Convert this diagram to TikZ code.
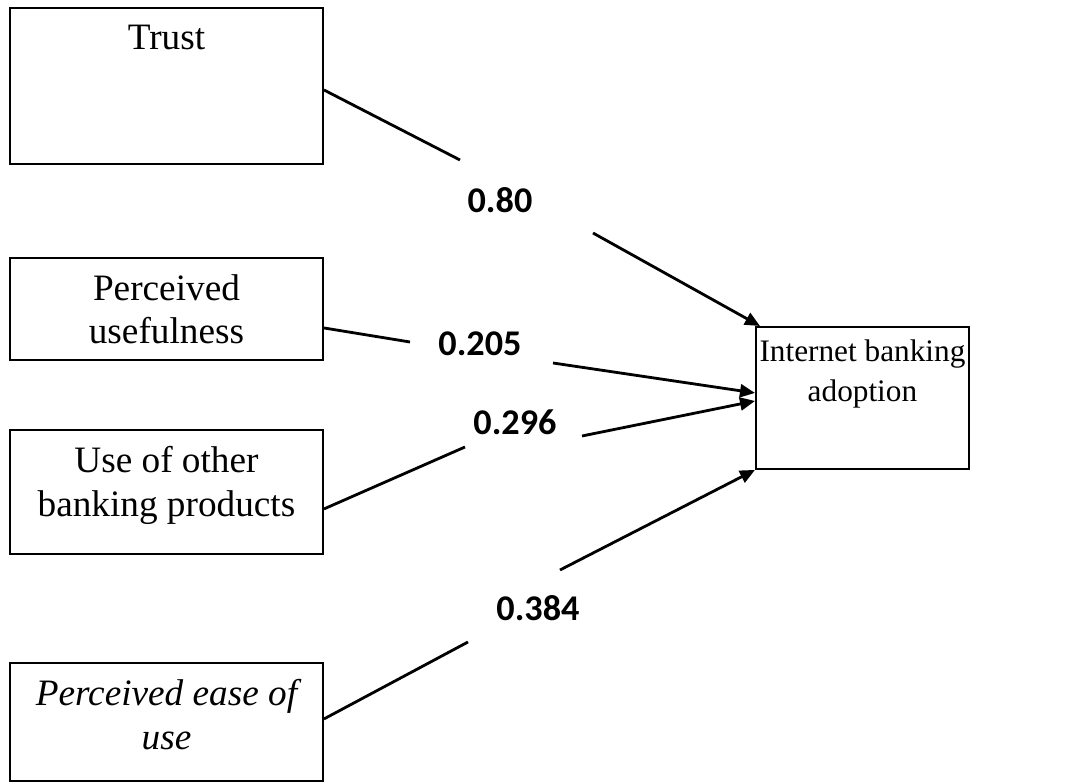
\documentclass[tikz,border=0pt]{standalone}
\usepackage{fontspec}
\setmainfont{Liberation Serif}
\newfontfamily\coeffont{Carlito}
\usetikzlibrary{arrows.meta}
\tikzset{
  box/.style={draw, line width=0.55pt, minimum width=3.13cm, anchor=north west, inner sep=0pt},
  boxtxt/.style={anchor=north, align=center, inner sep=0pt, yshift=-0.17cm,
    font=\fontsize{10.6}{12.3}\selectfont},
  coef/.style={inner sep=1pt, font=\coeffont\fontsize{10.3}{12}\selectfont},
  link/.style={line width=0.8pt},
  flow/.style={link, -{Triangle[length=0.15cm, width=0.13cm]}},
}
\begin{document}
\begin{tikzpicture}
  \useasboundingbox (0,0) rectangle (10.70,7.82);

  % predictors (left)
  \node[box, minimum height=1.56cm] (trust) at (0.09,7.75) {};
  \node[boxtxt] (trusttxt) at (trust.north) {Trust};
  \node[box, minimum height=1.02cm] (pu) at (0.09,5.25) {};
  \node[boxtxt] (putxt) at (pu.north) {Perceived\\usefulness};
  \node[box, minimum height=1.24cm] (uobp) at (0.09,3.53) {};
  \node[boxtxt] (uobptxt) at (uobp.north) {Use of other\\banking products};
  \node[box, minimum height=1.18cm] (peu) at (0.09,1.20) {};
  \node[boxtxt, font=\fontsize{10.6}{12.3}\selectfont\itshape] (peutxt) at (peu.north) {Perceived ease of\\use};

  % outcome (right)
  \node[box, minimum width=2.13cm, minimum height=1.42cm] (iba) at (7.55,4.56) {};
  \node[boxtxt, yshift=0.04cm, font=\fontsize{8.9}{11.4}\selectfont] (ibatxt) at (iba.north) {Internet banking\\adoption};

  % path coefficients
  \node[coef] (c1) at (5.00,5.82) {\bfseries 0.\bfseries 80};
  \node[coef] (c2) at (4.80,4.38) {\bfseries 0.205};
  \node[coef] (c3) at (5.15,3.60) {\bfseries 0.296};
  \node[coef] (c4) at (5.38,1.74) {\bfseries 0.384};

  \coordinate (c1in) at (4.60,6.22);  \coordinate (c1out) at (5.93,5.49);
  \coordinate (c2in) at (4.10,4.40);  \coordinate (c2out) at (5.53,4.19);
  \coordinate (c3in) at (4.65,3.35);  \coordinate (c3out) at (5.82,3.46);
  \coordinate (c4in) at (4.68,1.40);  \coordinate (c4out) at (5.60,2.12);

  \draw[link] ([yshift=-0.04cm]trust.east) -- (c1in);
  \draw[flow] (c1out) -- ([xshift=0.05cm]iba.north west);
  \draw[link] ([yshift=-0.19cm]pu.east) -- (c2in);
  \draw[flow] (c2out) -- ([yshift=0.05cm]iba.west);
  \draw[link] ([yshift=-0.17cm]uobp.east) -- (c3in);
  \draw[flow] (c3out) -- ([yshift=-0.03cm]iba.west);
  \draw[link] ([yshift=0.03cm]peu.east) -- (c4in);
  \draw[flow] (c4out) -- (iba.south west);
\end{tikzpicture}
\end{document}
